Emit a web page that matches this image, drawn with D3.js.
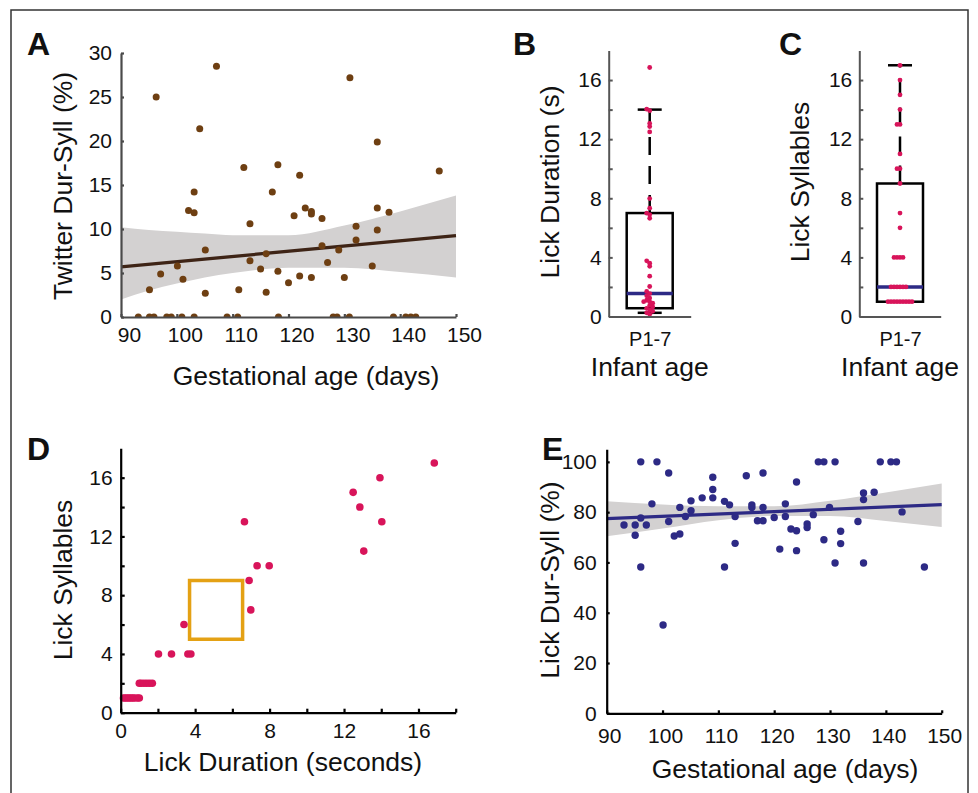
<!DOCTYPE html>
<html>
<head>
<meta charset="utf-8">
<script src="https://cdn.jsdelivr.net/npm/d3@7"></script>
<style>
  body { margin: 0; background: #fff; }
  svg text { font-family: "Liberation Sans", Arial, sans-serif; fill: #111; }
</style>
</head>
<body>
<svg id="fig" width="978" height="793"></svg>
<script>
// ---- panel A : twitter dur-syll vs gestational age ----
const aGestAge = [95.1, 96.3, 97.1, 100.1, 101.1, 102.1, 103.1, 103.1, 104.1, 105.1, 105.1, 107.1,
                  111.1, 112.0, 113.1, 113.1, 115.0, 116.0, 116.0, 117.1, 118.1, 118.1, 120.0, 121.0,
                  122.0, 122.0, 123.0, 124.1, 124.1, 124.1, 126.0, 126.0, 127.0, 129.0, 130.0, 131.0,
                  132.1, 132.1, 135.0, 135.9, 135.9, 135.9, 138.0, 147.0,
                  93.1, 95.1, 95.9, 98.2, 99.0, 100.9, 103.1, 109.0, 110.9, 118.2, 128.0, 128.7,
                  130.9, 138.8, 141.0, 141.9, 142.8];
const aTwitter = [3.1, 25.0, 4.9, 5.8, 4.3, 12.1, 11.85, 14.2, 21.4, 7.6, 2.7, 28.5,
                  3.1, 17.0, 10.6, 6.4, 5.45, 7.2, 2.8, 14.2, 17.3, 5.2, 3.9, 11.5,
                  16.1, 4.66, 12.4, 12.0, 11.7, 4.5, 11.2, 8.1, 6.2, 7.6, 4.5, 27.2,
                  10.3, 8.75, 5.8, 19.9, 12.4, 9.9, 11.9, 16.6,
                  0, 0, 0, 0, 0, 0, 0, 0, 0, 0, 0, 0,
                  0, 0, 0, 0, 0];
const aFitX = [90, 150];
const aFitY = [5.7, 9.24];
const aBandX = [90, 95, 100, 105, 110, 120, 130, 140, 150];
const aBandHi = [10.2, 9.9, 9.7, 9.5, 9.3, 9.3, 10.4, 12.0, 13.8];
const aBandLo = [2.0, 3.0, 3.8, 4.5, 5.0, 5.6, 5.6, 5.1, 4.5];
const aXTicks = [90, 100, 110, 120, 130, 140, 150];
const aYTicks = [0, 5, 10, 15, 20, 25, 30];

// ---- lick data (panels B, C, D) ----
const lickDuration = [16.85, 13.93, 12.49, 12.85, 14.03, 13.06, 6.65, 7.33, 7.98, 6.9, 6.99, 3.4,
                      2.03, 2.73, 3.61, 3.77, 1.0, 1.1, 1.25, 1.4, 1.55, 1.7,
                      0.15, 0.25, 0.35, 0.45, 0.55, 0.65, 0.75, 0.9, 1.0];
const lickSyllables = [17, 16, 15, 14, 13, 11, 13, 10, 10, 9, 7, 6,
                       4, 4, 4, 4, 2, 2, 2, 2, 2, 2,
                       1, 1, 1, 1, 1, 1, 1, 1, 1];
const ageGroup = ["P1-7"];
// box stats as drawn: [lower whisker, q1, median, q3, upper whisker]
const boxDuration = [0.25, 0.56, 1.55, 7.0, 14.0];
const boxSyllables = [1, 1, 2, 9, 17];
const lickYTicks = [0, 4, 8, 12, 16];
const lickMinorTicks = [0, 2, 4, 6, 8, 10, 12, 14, 16];
const dXTicks = [0, 4, 8, 12, 16];
const dXMinorTicks = [0, 2, 4, 6, 8, 10, 12, 14, 16, 18];
const dHighlight = {x: [3.7, 6.55], y: [5, 9]};

// ---- panel E : lick dur-syll vs gestational age ----
const eGestAge = [93.1, 95.1, 95.1, 96.1, 96.1, 96.1, 97.1, 98.1, 99.0, 100.1, 101.1, 101.1,
                  102.1, 103.1, 103.1, 104.1, 105.1, 105.1, 107.1, 109.0, 109.0, 109.0, 111.1, 111.1,
                  112.0, 113.0, 113.0, 115.0, 116.0, 116.0, 117.0, 118.0, 118.0, 118.0, 120.0, 121.0,
                  122.0, 122.0, 123.0, 124.0, 124.0, 124.0, 125.9, 125.9, 127.0, 127.9, 128.9, 128.9,
                  129.9, 130.9, 130.9, 131.9, 131.9, 135.0, 136.0, 136.0, 136.0, 137.9, 139.0, 140.9,
                  141.9, 142.9, 146.9];
const eLickDS = [74.9, 74.9, 70.8, 100, 77.7, 58.2, 74.9, 83.3, 100, 35.1, 95.6, 76.3,
                 70.5, 71.3, 81.9, 78.3, 84.5, 80.6, 85.7, 93.9, 89.0, 85.7, 84.3, 58.2,
                 82.9, 78.3, 67.6, 94.5, 82.9, 81.9, 76.6, 95.6, 81.9, 76.6, 77.9, 65.3,
                 83.3, 78.3, 73.3, 72.6, 92.0, 64.7, 75.3, 73.9, 79.0, 100, 100, 69.0,
                 81.9, 100, 59.8, 72.4, 67.5, 76.3, 87.6, 85.0, 59.8, 87.9, 100, 100,
                 100, 80.1, 58.2];
const eFitX = [90, 150];
const eFitY = [77.4, 83.0];
const eBandX = [90, 100, 110, 120, 130, 140, 150];
const eBandHi = [84.3, 83.0, 82.3, 82.3, 84.5, 87.8, 91.4];
const eBandLo = [70.4, 73.5, 76.8, 78.5, 78.5, 76.5, 74.1];
const eYTicks = [0, 20, 40, 60, 80, 100];

const C_PINK = "#d8145a";
const C_NAVY = "#2d2a85";
const C_BROWN = "#6e3f12";
const C_BAND = "#d3d1d1";
const TICK_FONT = 21;
const LABEL_FONT = 26.5;

const svg = d3.select("#fig");

// outer frame of the figure
svg.append("rect")
    .attr("x", 11).attr("y", 10)
    .attr("width", 957).attr("height", 800)
    .attr("fill", "none")
    .attr("stroke", "#333")
    .attr("stroke-width", 1.5);

/**
 * draw an axis with inward ticks (matlab look)
 */
function styledAxis(g, axis, color, width, fontSize){
  g.call(axis);
  g.select(".domain").attr("stroke", color).attr("stroke-width", width);
  g.selectAll(".tick line").attr("stroke", color).attr("stroke-width", width);
  g.selectAll(".tick text")
    .attr("font-size", fontSize)
    .attr("font-family", "Liberation Sans, Arial, sans-serif")
    .attr("fill", "#111");
  return g;
}

function panelLetter(txt, x, y){
  svg.append("text")
      .attr("x", x).attr("y", y)
      .attr("font-size", 32)
      .attr("font-weight", "bold")
      .text(txt);
}

function axisLabel(txt, x, y, rotate){
  svg.append("text")
      .attr("text-anchor", "middle")
      .attr("font-size", LABEL_FONT)
      .attr("transform", "translate(" + x + "," + y + ")" + (rotate ? " rotate(-90)" : ""))
      .text(txt);
}

// spread points sideways where they would overlap (simple swarm)
function dodge(values, y, cx, step, minDist){
  const placed = [];
  return values.map(v => {
    const py = y(v);
    let k = 0, off = 0;
    while (k < 60){
      off = (k % 2 === 0 ? 1 : -1) * Math.ceil(k / 2) * step;
      if (!placed.some(p => Math.hypot(p.x - (cx + off), p.y - py) < minDist)) break;
      k++;
    }
    placed.push({x: cx + off, y: py});
    return {x: cx + off, y: py};
  });
}

/****  panel A  ****/
function drawA(){
  const x = d3.scaleLinear().domain([90, 150]).range([121, 456]);
  const y = d3.scaleLinear().domain([0, 30]).range([317, 53]);

  // confidence band
  const band = aBandX.map((d, i) => ({x: d, hi: aBandHi[i], lo: aBandLo[i]}));
  svg.append("path")
      .datum(band)
      .attr("fill", C_BAND)
      .attr("d", d3.area().curve(d3.curveMonotoneX)
                    .x(d => x(d.x)).y0(d => y(d.lo)).y1(d => y(d.hi)));

  // regression line
  svg.append("path")
      .datum(aFitX.map((d, i) => [d, aFitY[i]]))
      .attr("fill", "none")
      .attr("stroke", "#3e2416")
      .attr("stroke-width", 3.2)
      .attr("d", d3.line().x(d => x(d[0])).y(d => y(d[1])));

  // clip points at zero line
  svg.append("clipPath").attr("id", "clipA")
     .append("rect").attr("x", 100).attr("y", 40).attr("width", 380).attr("height", y(0) - 40);

  svg.append("g")
      .attr("clip-path", "url(#clipA)")
      .selectAll("circle")
      .data(aGestAge)
      .join("circle")
      .attr("cx", d => x(d))
      .attr("cy", (d, i) => y(aTwitter[i]))
      .attr("r", 3.5)
      .attr("fill", C_BROWN);

  // axes
  const gx = styledAxis(svg.append("g").attr("transform", "translate(0," + y(0) + ")"),
              d3.axisBottom(x).tickValues(aXTicks).tickSizeInner(-3).tickSizeOuter(0).tickPadding(10),
              "#4a4a4a", 2.2, TICK_FONT);
  gx.selectAll(".tick text").attr("dx", 8);
  styledAxis(svg.append("g").attr("transform", "translate(" + x(90) + ",0)"),
              d3.axisLeft(y).tickValues(aYTicks).tickSizeInner(-3).tickSizeOuter(0).tickPadding(9),
              "#4a4a4a", 2.2, TICK_FONT);

  panelLetter("A", 27, 55);
  axisLabel("Twitter Dur-Syll (%)", 72, 186, true);
  axisLabel("Gestational age (days)", 306, 385, false);
}

/****  panels B and C : box plots  ****/
function drawBox(values, stats, left, right, letter, yLabel, labelX){
  const x = d3.scalePoint().domain(ageGroup).range([left, right]).padding(0.5);
  const y = d3.scaleLinear().domain([0, 18]).range([316.5, 50.5]);
  const cx = x(ageGroup[0]);
  const halfW = 23;

  // whiskers
  svg.append("line")
      .attr("x1", cx).attr("x2", cx)
      .attr("y1", y(stats[3])).attr("y2", y(stats[4]))
      .attr("stroke", "#000").attr("stroke-width", 2.5)
      .attr("stroke-dasharray", "18,11");
  svg.append("line")
      .attr("x1", cx).attr("x2", cx)
      .attr("y1", y(stats[0])).attr("y2", y(stats[1]))
      .attr("stroke", "#000").attr("stroke-width", 2.5);
  [stats[0], stats[4]].forEach(v => {
    svg.append("line")
        .attr("x1", cx - 12).attr("x2", cx + 12)
        .attr("y1", y(v)).attr("y2", y(v))
        .attr("stroke", "#000").attr("stroke-width", 2.5);
  });

  // box
  svg.append("rect")
      .attr("x", cx - halfW).attr("width", 2 * halfW)
      .attr("y", y(stats[3])).attr("height", y(stats[1]) - y(stats[3]))
      .attr("fill", "none").attr("stroke", "#000").attr("stroke-width", 2.5);

  // median
  svg.append("line")
      .attr("x1", cx - halfW).attr("x2", cx + halfW)
      .attr("y1", y(stats[2])).attr("y2", y(stats[2]))
      .attr("stroke", C_NAVY).attr("stroke-width", 3.5);

  // points
  const pts = dodge(values, y, cx, 3, 3);
  svg.append("g").selectAll("circle")
      .data(pts)
      .join("circle")
      .attr("cx", d => d.x).attr("cy", d => d.y)
      .attr("r", 2.4)
      .attr("fill", C_PINK);

  // axes
  styledAxis(svg.append("g").attr("transform", "translate(0," + y(0) + ")"),
              d3.axisBottom(d3.scaleLinear().domain([0, 1]).range([left, right])).tickValues([]).tickSizeOuter(0),
              "#555", 2, TICK_FONT);
  styledAxis(svg.append("g").attr("transform", "translate(" + left + ",0)"),
              d3.axisLeft(y).tickValues(lickMinorTicks).tickSizeInner(-4).tickSizeOuter(0).tickPadding(7)
                .tickFormat(d => lickYTicks.includes(d) ? d : ""),
              "#555", 2, TICK_FONT);
  const gx = svg.append("g").attr("transform", "translate(0," + y(0) + ")");
  styledAxis(gx, d3.axisBottom(x).tickSize(0).tickPadding(15), "#555", 0, 20);
  gx.select(".domain").remove();

  panelLetter(letter, labelX, 55);
  axisLabel(yLabel, left - 50, 182, true);
  axisLabel("Infant age", cx, 376, false);
}

/****  panel D : syllables vs duration  ****/
function drawD(){
  const x = d3.scaleLinear().domain([0, 18]).range([120.7, 455.7]);
  const y = d3.scaleLinear().domain([0, 18]).range([712.7, 448.3]);

  svg.append("rect")
      .attr("x", x(dHighlight.x[0])).attr("width", x(dHighlight.x[1]) - x(dHighlight.x[0]))
      .attr("y", y(dHighlight.y[1])).attr("height", y(dHighlight.y[0]) - y(dHighlight.y[1]))
      .attr("fill", "none")
      .attr("stroke", "#e4a114")
      .attr("stroke-width", 3.5);

  svg.append("g").selectAll("circle")
      .data(lickDuration)
      .join("circle")
      .attr("cx", d => x(d))
      .attr("cy", (d, i) => y(lickSyllables[i]))
      .attr("r", 3.8)
      .attr("fill", C_PINK);

  styledAxis(svg.append("g").attr("transform", "translate(0," + y(0) + ")"),
              d3.axisBottom(x).tickValues(dXMinorTicks).tickSizeInner(-4).tickSizeOuter(0).tickPadding(10)
                .tickFormat(d => dXTicks.includes(d) ? d : ""),
              "#000", 2.2, TICK_FONT);
  styledAxis(svg.append("g").attr("transform", "translate(" + x(0) + ",0)"),
              d3.axisLeft(y).tickValues(lickMinorTicks).tickSizeInner(-4).tickSizeOuter(0).tickPadding(8)
                .tickFormat(d => lickYTicks.includes(d) ? d : ""),
              "#000", 2.2, TICK_FONT);

  panelLetter("D", 27, 460);
  axisLabel("Lick Syllables", 72, 580, true);
  axisLabel("Lick Duration (seconds)", 283, 771, false);
}

/****  panel E  ****/
function drawE(){
  const x = d3.scaleLinear().domain([90, 150]).range([606.7, 941.7]);
  const y = d3.scaleLinear().domain([0, 105]).range([713.3, 449.3]);

  const band = eBandX.map((d, i) => ({x: d, hi: eBandHi[i], lo: eBandLo[i]}));
  svg.append("path")
      .datum(band)
      .attr("fill", C_BAND)
      .attr("d", d3.area().curve(d3.curveMonotoneX)
                    .x(d => x(d.x)).y0(d => y(d.lo)).y1(d => y(d.hi)));

  svg.append("path")
      .datum(eFitX.map((d, i) => [d, eFitY[i]]))
      .attr("fill", "none")
      .attr("stroke", C_NAVY)
      .attr("stroke-width", 3.2)
      .attr("d", d3.line().x(d => x(d[0])).y(d => y(d[1])));

  svg.append("g").selectAll("circle")
      .data(eGestAge)
      .join("circle")
      .attr("cx", d => x(d))
      .attr("cy", (d, i) => y(eLickDS[i]))
      .attr("r", 3.7)
      .attr("fill", C_NAVY);

  const gx = styledAxis(svg.append("g").attr("transform", "translate(0," + y(0) + ")"),
              d3.axisBottom(x).tickValues(aXTicks).tickSizeInner(-3).tickSizeOuter(0).tickPadding(15),
              "#000", 2.2, TICK_FONT);
  gx.selectAll(".tick text").attr("dx", 2.5);
  styledAxis(svg.append("g").attr("transform", "translate(" + x(90) + ",0)"),
              d3.axisLeft(y).tickValues(eYTicks).tickSizeInner(-3).tickSizeOuter(0).tickPadding(10),
              "#000", 2.2, TICK_FONT);

  panelLetter("E", 542, 460);
  axisLabel("Lick Dur-Syll (%)", 559, 580, true);
  axisLabel("Gestational age (days)", 785, 778, false);
}

drawA();
drawBox(lickDuration, boxDuration, 608.7, 690.7, "B", "Lick Duration (s)", 513);
drawBox(lickSyllables, boxSyllables, 859.3, 940.7, "C", "Lick Syllables", 779);
drawD();
drawE();
</script>
</body>
</html>
